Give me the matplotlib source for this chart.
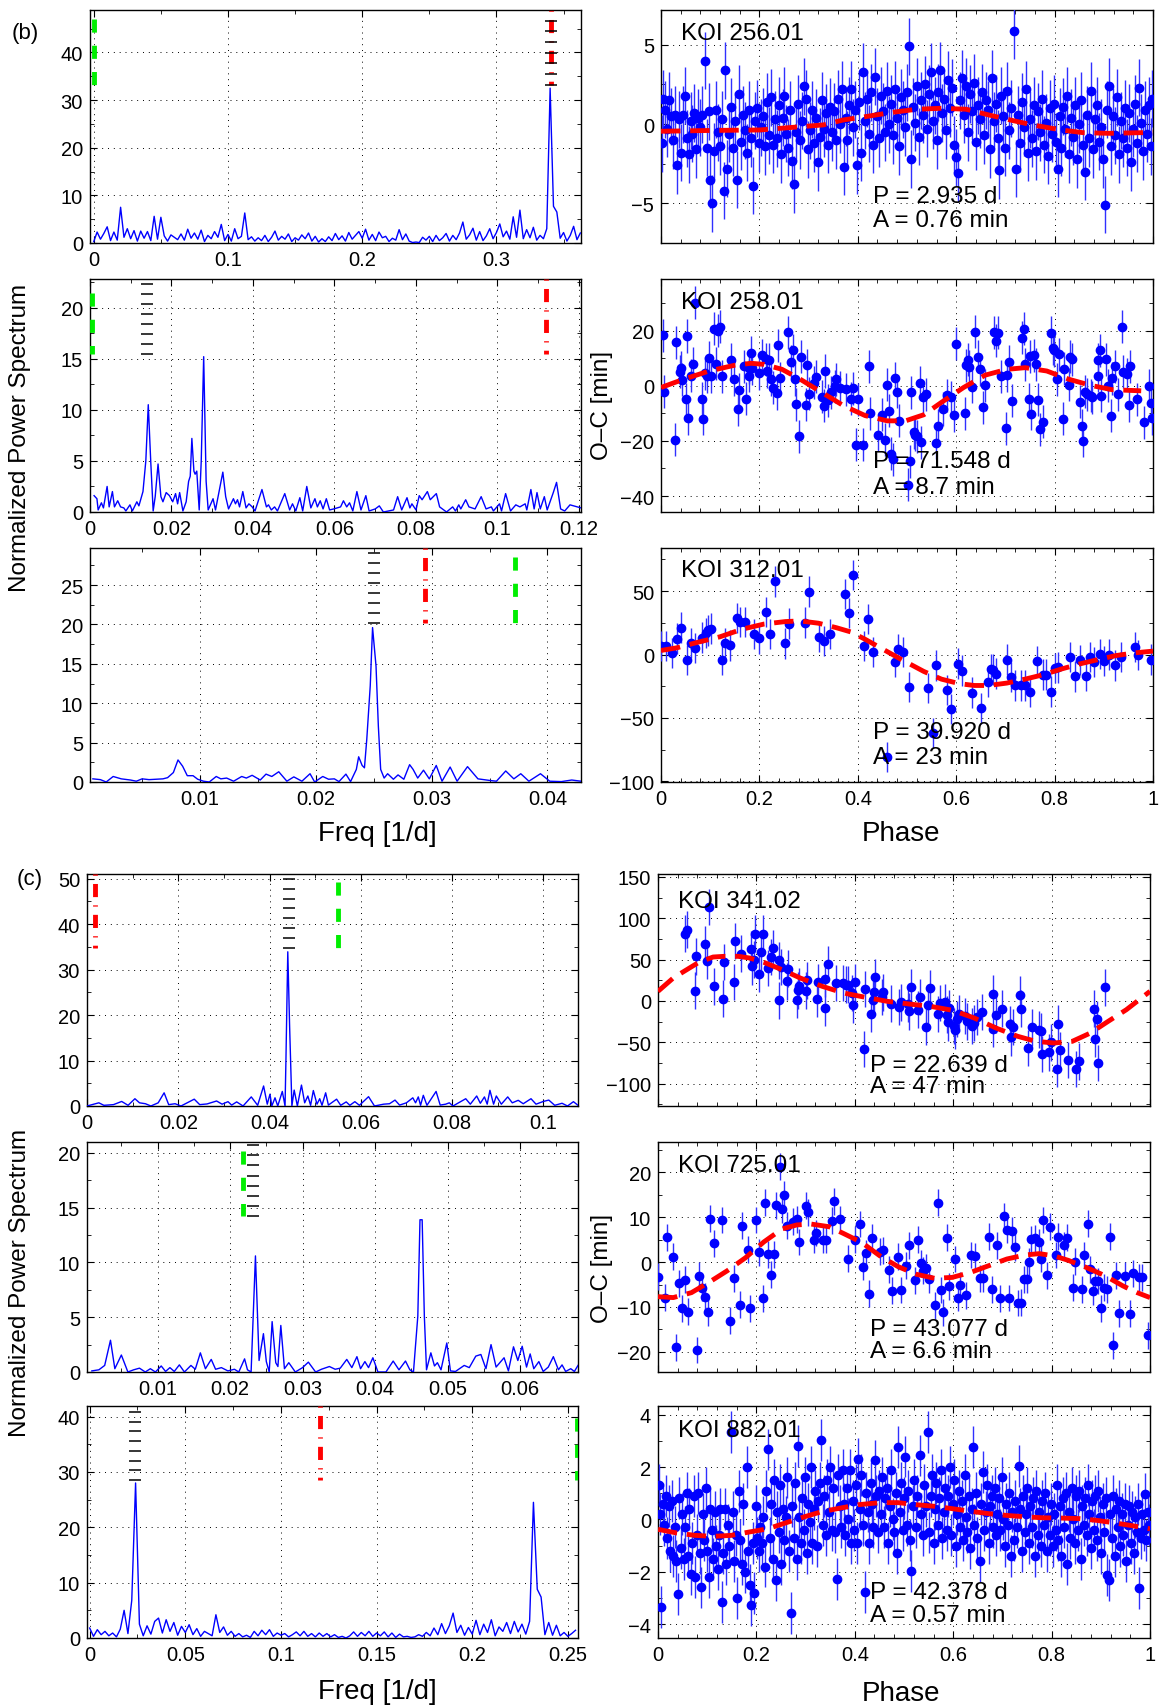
import numpy as np
import matplotlib.pyplot as plt
import matplotlib.transforms as mtransforms
from matplotlib.ticker import AutoMinorLocator, FuncFormatter

plt.rcParams['font.family'] = ['Liberation Sans', 'DejaVu Sans']

W, H = 1159, 1708

# ==========================
# Periodograms (left column)
# ==========================

# KOI 256.01, uniform grid step 0.0025 starting at 0
pw_256_step = 0.0025
pw_256 = [0.3, 2.3, 0.8, 2.0, 3.4, 0.5, 2.3, 0.6, 7.5, 1.2, 3.0, 0.9, 2.6, 0.4, 2.5, 1.0,
          2.4, 0.5, 5.6, 0.8, 5.4, 1.5, 0.4, 1.7, 1.2, 0.7, 1.9, 0.6, 2.9, 1.0, 2.1, 0.8,
          2.7, 0.3, 1.6, 0.9, 2.4, 1.2, 3.9, 0.5, 1.8, 0.4, 3.0, 0.9, 1.4, 6.3, 0.7, 1.3,
          0.4, 1.1, 0.5, 1.6, 0.3, 1.2, 2.5, 0.6, 1.4, 0.8, 1.9, 0.3, 1.1, 0.6, 1.7, 0.9,
          2.1, 0.4, 1.4, 0.2, 0.9, 0.3, 1.3, 0.5, 2.0, 0.7, 1.5, 0.4, 2.2, 0.8, 1.6, 2.4,
          1.0, 2.9, 0.6, 1.8, 0.5, 2.3, 1.1, 1.4, 0.3, 1.0, 0.6, 2.8, 0.7, 1.9, 0.4, 0.1,
          0.2, 0.1, 1.2, 0.6, 1.4, 0.3, 1.6, 0.5, 1.1, 2.0, 0.4, 1.6, 0.7, 2.1, 4.4, 0.8,
          1.7, 3.1, 0.6, 2.4, 0.5, 1.5, 3.0, 0.9, 2.2, 4.0, 1.3, 2.5, 0.8, 5.5, 1.2, 6.9,
          0.9, 2.8, 1.1, 3.3, 0.6, 1.6, 0.9, 3.0, 32.5, 7.7, 6.5, 1.0, 2.2, 0.4, 1.6, 3.5,
          0.7, 2.1]

# KOI 258.01
fq_258 = [0.001, 0.0017, 0.002, 0.0028, 0.0033, 0.0042, 0.0047, 0.0055, 0.006, 0.0068, 0.0075,
          0.0083, 0.0088, 0.0098, 0.0104, 0.0115, 0.012, 0.013, 0.0137, 0.0143, 0.0149, 0.0155,
          0.016, 0.0167, 0.0174, 0.0179, 0.0187, 0.0195, 0.0203, 0.021, 0.0215, 0.022, 0.0228,
          0.0236, 0.0242, 0.0246, 0.025, 0.0255, 0.0258, 0.0262, 0.0268, 0.0273, 0.0279, 0.0285,
          0.029, 0.0302, 0.0308, 0.0326, 0.0333, 0.034, 0.0352, 0.0357, 0.0362, 0.0367, 0.0375,
          0.0383, 0.039, 0.0398, 0.0405, 0.0422, 0.0433, 0.0438, 0.0445, 0.0453, 0.046, 0.0478,
          0.049, 0.0497, 0.0505, 0.0515, 0.0522, 0.0532, 0.0542, 0.0552, 0.0558, 0.0565, 0.0572,
          0.058, 0.0588, 0.0598, 0.0615, 0.0622, 0.063, 0.0637, 0.0645, 0.0655, 0.0665, 0.0677,
          0.0685, 0.07, 0.071, 0.072, 0.0745, 0.0755, 0.0765, 0.0778, 0.0785, 0.079, 0.08,
          0.0808, 0.0815, 0.0828, 0.0835, 0.085, 0.0858, 0.0868, 0.0875, 0.089, 0.0897, 0.0905,
          0.091, 0.0922, 0.093, 0.0945, 0.096, 0.0972, 0.0985, 0.099, 0.1005, 0.101, 0.102,
          0.1032, 0.1045, 0.1055, 0.1068, 0.1072, 0.1082, 0.109, 0.1097, 0.1105, 0.1115, 0.1122,
          0.1137, 0.1145, 0.1155, 0.1165, 0.1178, 0.1205]
pw_258 = [1.6, 1.3, 0.2, 0.9, 0.4, 2.5, 0.5, 2.0, 0.5, 1.1, 0.5,
          0.4, 0.1, 0.7, 0.1, 1.0, 0.6, 2.0, 5.0, 10.5, 5.0, 0.1,
          1.5, 4.7, 1.5, 1.0, 1.9, 1.6, 1.0, 1.8, 0.8, 1.9, 0.1,
          1.0, 3.0, 3.5, 7.2, 4.0, 3.7, 4.0, 0.2, 5.0, 15.2, 3.0,
          0.2, 1.3, 0.2, 3.9, 1.5, 0.3, 1.3, 0.8, 1.2, 0.5, 2.0,
          0.4, 0.8, 0.5, 0.1, 2.2, 0.5, 0.7, 0.2, 0.5, 0.1, 1.8,
          0.2, 0.8, 0.1, 1.4, 0.1, 2.5, 0.4, 1.3, 0.5, 1.1, 0.3,
          1.3, 0.2, 0.3, 0.5, 1.1, 0.5, 0.9, 0.1, 2.0, 0.2, 1.6,
          0.1, 0.3, 0.6, 0.0, 0.2, 1.5, 0.2, 1.4, 0.4, 0.8, 0.2,
          1.6, 1.2, 2.0, 1.2, 1.8, 0.5, 0.2, 0.0, 0.5, 0.1, 0.7,
          0.3, 1.2, 0.5, 0.3, 1.5, 0.3, 0.5, 0.1, 0.8, 0.1, 1.8,
          0.1, 0.7, 0.5, 0.8, 0.2, 2.2, 0.3, 1.9, 0.3, 1.5, 0.2,
          1.9, 2.9, 0.3, 0.1, 0.7, 0.4]

# KOI 312.01
fq_312 = [0.00075, 0.0014, 0.0019, 0.0025, 0.0032, 0.004, 0.0045, 0.005, 0.0056, 0.0068, 0.0072,
          0.0077, 0.0081, 0.0085, 0.0089, 0.0094, 0.0098, 0.0103, 0.0108, 0.0114, 0.0118, 0.0123,
          0.0129, 0.0136, 0.014, 0.0145, 0.0152, 0.0157, 0.0162, 0.0168, 0.0175, 0.0181, 0.0188,
          0.0195, 0.0199, 0.0206, 0.0211, 0.0216, 0.022, 0.0226, 0.023, 0.0235, 0.0237, 0.024,
          0.0242, 0.0244, 0.0247, 0.0249, 0.0252, 0.0254, 0.0256, 0.0259, 0.0262, 0.0267, 0.0271,
          0.0276, 0.0281, 0.0284, 0.0288, 0.0293, 0.0298, 0.0304, 0.0309, 0.0316, 0.0322, 0.0331,
          0.034, 0.035, 0.0356, 0.0364, 0.0371, 0.0377, 0.0384, 0.0394, 0.0402, 0.0412, 0.0421,
          0.0429]
pw_312 = [0.4, 0.3, 0.0, 0.7, 0.4, 0.25, 0.1, 0.4, 0.3, 0.4, 0.55,
          1.2, 2.8, 2.0, 0.8, 0.8, 0.35, 0.1, 0.0, 0.7, 0.4, 0.5,
          0.1, 0.7, 0.5, 0.85, 0.25, 1.0, 0.7, 1.3, 0.1, 0.65, 0.1,
          1.05, 0.0, 0.7, 0.35, 0.4, 0.05, 1.0, 0.05, 1.6, 3.2, 2.1,
          1.8, 5.4, 12.2, 19.6, 14.7, 7.1, 1.6, 0.5, 1.05, 0.35, 0.9,
          0.35, 2.2, 1.6, 0.5, 1.5, 0.4, 2.1, 0.1, 1.9, 0.1, 1.95,
          0.4, 0.2, 0.1, 1.4, 0.4, 1.05, 0.1, 1.05, 0.1, 0.05, 0.25,
          0.1]

# KOI 341.02
fq_341 = [0, 0.0026, 0.0037, 0.0058, 0.0076, 0.009, 0.0105, 0.0115, 0.0128, 0.014, 0.0156,
          0.0169, 0.0179, 0.0193, 0.0206, 0.0235, 0.0247, 0.0263, 0.0284, 0.0296, 0.0309, 0.0317,
          0.0328, 0.0342, 0.036, 0.0374, 0.0387, 0.0395, 0.0401, 0.0405, 0.0412, 0.0418, 0.0428,
          0.0434, 0.0436, 0.044, 0.0444, 0.0449, 0.0454, 0.0461, 0.047, 0.0477, 0.0484, 0.049,
          0.0496, 0.0504, 0.051, 0.0515, 0.0523, 0.0529, 0.0547, 0.0556, 0.0568, 0.0576, 0.0587,
          0.0597, 0.0617, 0.063, 0.065, 0.0663, 0.0675, 0.0685, 0.07, 0.0714, 0.072, 0.0726,
          0.0731, 0.0737, 0.0745, 0.0765, 0.0774, 0.0786, 0.0794, 0.0802, 0.083, 0.084, 0.0854,
          0.0862, 0.0871, 0.0877, 0.0883, 0.0891, 0.0897, 0.0908, 0.0922, 0.0932, 0.0945, 0.0956,
          0.0973, 0.0984, 0.1, 0.1012, 0.1025, 0.1041, 0.1053, 0.1066, 0.1076]
pw_341 = [0, 0.7, 0.15, 0.3, 1.0, 0.15, 1.6, 0.7, 0.5, 0, 0.7,
          2.9, 0.3, 0.5, 0, 1.5, 0.3, 0.45, 1.1, 0.4, 0.95, 0.2,
          0.9, 0, 2.0, 0.15, 4.4, 0.4, 2.6, 0, 1.8, 0, 3.2,
          0, 10.3, 33.9, 17.6, 0, 3.5, 0, 4.6, 0.7, 2.2, 0.15,
          3.4, 0.4, 1.6, 0.15, 2.9, 0.2, 1.5, 0.15, 0.9, 0.15, 0.95,
          0.15, 2.05, 0, 0.4, 0.5, 1.3, 0.2, 0.7, 1.8, 0.7, 2.0,
          0.15, 2.35, 0.15, 3.2, 0.2, 0.4, 0.7, 0, 1.6, 0.4, 2.2,
          0.6, 2.0, 0.4, 3.45, 0.4, 2.2, 0.4, 2.0, 0.7, 1.25, 0.5,
          1.6, 0.4, 1.0, 1.3, 0.15, 0.6, 0, 0.95, 0.15]

# KOI 725.01
fq_725 = [0.00093, 0.0019, 0.0027, 0.0035, 0.0041, 0.005, 0.0059, 0.0067, 0.0075, 0.0083, 0.009,
          0.0097, 0.0105, 0.0111, 0.0117, 0.0123, 0.013, 0.0137, 0.0146, 0.0152, 0.0159, 0.0166,
          0.0174, 0.018, 0.0188, 0.0197, 0.0206, 0.0212, 0.022, 0.0224, 0.0229, 0.0235, 0.024,
          0.0246, 0.025, 0.0254, 0.0258, 0.0263, 0.0266, 0.027, 0.0275, 0.0281, 0.029, 0.03,
          0.0308, 0.0318, 0.0326, 0.0337, 0.0345, 0.0352, 0.0361, 0.0368, 0.0375, 0.038, 0.0386,
          0.0391, 0.0397, 0.0404, 0.0415, 0.0425, 0.0433, 0.0442, 0.0448, 0.0453, 0.0459, 0.0462,
          0.0465, 0.0468, 0.0471, 0.0477, 0.0482, 0.0486, 0.0491, 0.0499, 0.0504, 0.0511, 0.0523,
          0.053, 0.0539, 0.0546, 0.0553, 0.056, 0.0567, 0.0578, 0.0584, 0.0591, 0.0597, 0.0603,
          0.0609, 0.0614, 0.0619, 0.0626, 0.0632, 0.0639, 0.0646, 0.0653, 0.0658, 0.0663, 0.067,
          0.0675, 0.068]
pw_725 = [0.1, 0.2, 0.6, 2.9, 0.3, 1.55, 0, 0.2, 0.35, 0, 0.3,
          0, 0.55, 0.05, 0.4, 0.05, 0.65, 0, 0.6, 0.25, 1.75, 0.3,
          1.15, 0.25, 0.4, 0.1, 0.25, 0, 1.2, 0.2, 0, 10.6, 1.05,
          3.5, 0.95, 0, 4.6, 0.85, 0.5, 4.25, 0.3, 0.85, 0, 0.4,
          0.9, 0, 0.25, 0.5, 0.25, 0.35, 1.15, 0.4, 1.4, 0.3, 0.95,
          0.4, 1.3, 0, 0, 1.0, 0.2, 1.0, 0.2, 0, 5.1, 13.9,
          13.9, 5.1, 0.2, 1.75, 0.55, 0.85, 0.2, 2.65, 0.1, 0.05, 0.6,
          0.4, 1.45, 1.6, 0.3, 2.5, 0.45, 1.3, 0.1, 2.3, 1.05, 2.35,
          0.45, 1.65, 0.3, 0.95, 0.05, 0.45, 1.4, 0.2, 0.65, 0.05, 0.3,
          0.05, 0.6]

# KOI 882.01, uniform grid step 0.002 starting at 0
pw_882_step = 0.002
pw_882 = [1.8, 0.3, 1.5, 0.6, 1.2, 0.4, 0.9, 0.2, 1.6, 5.0, 0.8, 6.8, 28.0, 2.5, 0.4, 2.2,
          0.7, 3.0, 3.6, 0.9, 3.3, 1.2, 2.8, 0.5, 2.1, 1.0, 2.4, 0.6, 1.7, 0.3, 1.2, 0.8,
          0.4, 4.2, 1.0, 2.0, 0.5, 1.2, 0.3, 0.8, 0.2, 0.5, 0.1, 1.2, 0.4, 1.4, 0.6, 1.5,
          0.3, 0.9, 0.5, 0.8, 0.2, 0.6, 1.1, 0.4, 1.2, 0.3, 0.8, 0.2, 0.9, 0.3, 0.8, 0.2,
          0.6, 0.1, 0.3, 0.0, 0.4, 1.1, 0.3, 1.0, 0.4, 1.2, 0.3, 0.9, 0.4, 1.1, 0.2, 0.9,
          0.1, 0.7, 0.2, 0.3, 0.1, 0.2, 0.6, 0.3, 1.0, 0.4, 1.8, 0.6, 2.6, 0.8, 2.2, 4.5,
          1.0, 2.3, 0.5, 1.9, 0.7, 3.2, 0.6, 2.5, 1.0, 3.3, 0.4, 2.0, 1.2, 2.8, 0.8, 3.0,
          1.1, 2.5, 0.7, 3.0, 24.5, 8.8, 7.4, 0.6, 2.8, 0.5, 2.3, 0.4, 1.0, 0.3, 0.8, 1.4]

# ==========================
# O-C diagrams (right column): (phase, O-C)
# ==========================

oc_256 = [(0.002, -1.2), (0.005, 1.6), (0.008, 0.9), (0.012, -0.3), (0.016, 1.5), (0.02, 0.5),
          (0.024, -1.0), (0.028, 0.6), (0.032, -2.6), (0.036, 0.3), (0.04, -1.8), (0.044, 0.6),
          (0.048, 1.8), (0.052, -0.9), (0.056, -1.9), (0.06, 0.2), (0.064, -0.6), (0.068, 0.7),
          (0.072, -1.6), (0.076, 0.4), (0.08, -0.2), (0.084, 0.6), (0.089, 4.0), (0.093, -1.5),
          (0.097, 0.8), (0.1, -3.5), (0.104, -5.0), (0.108, -1.7), (0.112, 0.9), (0.116, -0.5),
          (0.12, -1.4), (0.124, 0.3), (0.128, -4.2), (0.131, 3.4), (0.135, -2.8), (0.139, -0.6),
          (0.143, 1.1), (0.147, -1.5), (0.151, 0.2), (0.155, -3.5), (0.158, 1.9), (0.162, -1.1),
          (0.166, 0.6), (0.17, -0.4), (0.174, -1.8), (0.178, 0.9), (0.182, -0.9), (0.187, -3.9),
          (0.191, 0.2), (0.195, 1.0), (0.199, -1.2), (0.203, -0.2), (0.207, 0.5), (0.211, -1.4),
          (0.215, 1.4), (0.219, -0.7), (0.223, 1.7), (0.227, -1.3), (0.231, 0.3), (0.235, -0.9),
          (0.239, 1.2), (0.243, -1.9), (0.247, 0.4), (0.251, 1.8), (0.255, -0.6), (0.259, -1.5),
          (0.263, 0.9), (0.267, -2.3), (0.271, -3.8), (0.275, -0.5), (0.279, 1.3), (0.283, -1.0),
          (0.287, 0.2), (0.291, 2.4), (0.295, 1.6), (0.299, -1.6), (0.303, -0.4), (0.307, 0.9),
          (0.311, -1.2), (0.315, 0.4), (0.319, -2.4), (0.323, -0.8), (0.327, 1.5), (0.331, -0.3),
          (0.335, 0.7), (0.339, -1.3), (0.343, 1.1), (0.347, -0.5), (0.351, 0.8), (0.355, -1.0),
          (0.359, 1.6), (0.363, 0.0), (0.367, 2.2), (0.371, -2.7), (0.375, 0.4), (0.379, -1.0),
          (0.383, 1.2), (0.387, 2.2), (0.391, -0.2), (0.395, 0.9), (0.399, -2.6), (0.403, 1.4),
          (0.407, -1.8), (0.411, 3.3), (0.415, 0.2), (0.419, 1.6), (0.423, -0.6), (0.427, 2.0),
          (0.431, -1.3), (0.435, 3.0), (0.439, 0.5), (0.443, -0.9), (0.447, 1.8), (0.451, 0.8),
          (0.455, -0.5), (0.459, 2.1), (0.463, 0.0), (0.467, 1.3), (0.471, -0.7), (0.475, 2.2),
          (0.479, 0.4), (0.483, -1.4), (0.487, 1.7), (0.491, 0.9), (0.495, -0.2), (0.499, 2.0),
          (0.504, 4.9), (0.508, -2.2), (0.512, 1.1), (0.516, 0.1), (0.52, 2.4), (0.524, -0.8),
          (0.528, 1.5), (0.532, 0.6), (0.536, 2.5), (0.54, -0.3), (0.544, 1.9), (0.548, 3.3),
          (0.552, 0.2), (0.556, 1.2), (0.56, -1.0), (0.564, 2.0), (0.568, 3.4), (0.572, 0.7),
          (0.576, 1.6), (0.58, -0.4), (0.584, 2.8), (0.588, 1.0), (0.592, 2.3), (0.596, -1.3),
          (0.6, -2.1), (0.604, -3.1), (0.608, 1.5), (0.612, 2.9), (0.616, 0.6), (0.62, 2.4),
          (0.624, -0.5), (0.628, 1.9), (0.632, 0.8), (0.636, 2.6), (0.64, -1.1), (0.644, 1.2),
          (0.648, 0.3), (0.652, 2.0), (0.656, -0.7), (0.66, 1.5), (0.664, 0.9), (0.668, -1.6),
          (0.672, 2.9), (0.676, 0.2), (0.68, 1.3), (0.684, -0.9), (0.688, -2.9), (0.692, 1.8),
          (0.696, 0.5), (0.7, -1.5), (0.704, 2.1), (0.708, -0.4), (0.712, 1.0), (0.718, 5.9),
          (0.722, -2.8), (0.726, 0.6), (0.73, -1.2), (0.734, 1.4), (0.738, -0.2), (0.742, 2.2),
          (0.746, -1.8), (0.75, 0.3), (0.754, -0.9), (0.758, 1.2), (0.762, -1.7), (0.766, 0.8),
          (0.77, -0.5), (0.774, 1.6), (0.778, -1.3), (0.782, 0.1), (0.786, -2.0), (0.79, 1.0),
          (0.794, -0.6), (0.798, 1.3), (0.802, -1.1), (0.806, -2.8), (0.81, 0.5), (0.814, -1.5),
          (0.818, 1.1), (0.822, -0.3), (0.826, 1.8), (0.83, -1.9), (0.834, 0.4), (0.838, -0.8),
          (0.842, 1.2), (0.846, -2.2), (0.85, 0.0), (0.854, 1.5), (0.858, -1.3), (0.862, -3.0),
          (0.866, 0.6), (0.87, -0.9), (0.874, 2.1), (0.878, -1.6), (0.882, 0.3), (0.886, 1.2),
          (0.89, -1.1), (0.894, -0.2), (0.898, -2.2), (0.903, -5.1), (0.907, 0.9), (0.911, 2.4),
          (0.915, -1.4), (0.919, 0.5), (0.923, -0.7), (0.927, 1.7), (0.931, -1.9), (0.935, 0.2),
          (0.939, -0.9), (0.943, 1.0), (0.947, -1.5), (0.951, 0.7), (0.955, -2.4), (0.959, -0.3),
          (0.963, 1.3), (0.967, -1.2), (0.971, 2.3), (0.975, 0.1), (0.979, -1.7), (0.983, 0.9),
          (0.987, -0.6), (0.991, 1.2), (0.995, -1.4), (0.998, 1.6)]
fit_256 = [(0, -0.45), (0.1, -0.4), (0.2, -0.37), (0.33, -0.05), (0.37, 0.26), (0.415, 0.47),
           (0.467, 0.73), (0.52, 0.94), (0.57, 1.0), (0.62, 0.94), (0.666, 0.58), (0.71, 0.26),
           (0.755, -0.05), (0.814, -0.37), (0.858, -0.54), (0.91, -0.58), (0.976, -0.54), (1.0, -0.5)]

oc_258 = [(0.004, 18.3), (0.007, -2.2), (0.029, -19.6), (0.03, 15.9), (0.038, 5.1), (0.041, 6.6),
          (0.043, 2.2), (0.05, -4.8), (0.052, 18.1), (0.055, -11.8), (0.061, 3.6), (0.065, 8.1),
          (0.069, 30.1), (0.083, -4.6), (0.086, -12.0), (0.089, 4.6), (0.094, 3.4), (0.098, 10.2),
          (0.102, 3.4), (0.107, 20.7), (0.111, 8.1), (0.115, 20.1), (0.119, 21.4), (0.123, 3.4),
          (0.142, 9.4), (0.148, 2.4), (0.157, -8.4), (0.159, -1.4), (0.168, 7.2), (0.172, -4.6),
          (0.178, 3.6), (0.179, 6.6), (0.182, 12.0), (0.185, 6.4), (0.2, 4.5), (0.205, 11.1),
          (0.213, 9.6), (0.216, 5.4), (0.22, 9.4), (0.224, 2.4), (0.227, -0.6), (0.235, -2.7),
          (0.238, 14.7), (0.242, 2.7), (0.258, 19.5), (0.264, 8.7), (0.269, 12.9), (0.273, 2.4),
          (0.275, -6.6), (0.281, -18.3), (0.285, 10.5), (0.294, -6.9), (0.297, 7.5), (0.301, -2.8),
          (0.311, 1.2), (0.316, 3.3), (0.327, -3.9), (0.331, -7.2), (0.334, 5.4), (0.34, -5.2),
          (0.345, -2.4), (0.353, -0.2), (0.356, 2.4), (0.364, -0.6), (0.375, -1.2), (0.386, -4.6),
          (0.391, -0.8), (0.397, -21.3), (0.401, -4.8), (0.41, -21.3), (0.423, 7.2), (0.425, -9.9),
          (0.441, -17.7), (0.449, -10.5), (0.455, -19.5), (0.46, 0.4), (0.463, -9.0), (0.467, -24.7),
          (0.471, -26.7), (0.475, 2.8), (0.48, -2.2), (0.484, -12.7), (0.503, -35.9), (0.506, -27.3),
          (0.508, -2.4), (0.514, -16.9), (0.517, -17.7), (0.52, -18.3), (0.526, 1.2), (0.528, -20.5),
          (0.532, -4.2), (0.539, -3.0), (0.559, -20.7), (0.563, -14.5), (0.573, -8.4), (0.582, -3.4),
          (0.589, -4.2), (0.596, -10.6), (0.6, 15.3), (0.618, -10.0), (0.62, 7.5), (0.624, 9.4),
          (0.627, 6.9), (0.632, -0.4), (0.639, 19.6), (0.644, 10.6), (0.648, 6.0), (0.655, -7.8),
          (0.659, 0.2), (0.677, 19.5), (0.68, 16.3), (0.685, 19.3), (0.691, 3.4), (0.702, -15.4),
          (0.703, 3.9), (0.708, 8.7), (0.713, -5.4), (0.733, 17.5), (0.737, 20.7), (0.739, 7.8),
          (0.748, -4.8), (0.75, 10.8), (0.753, -10.2), (0.759, 11.1), (0.762, 7.8), (0.766, -5.1),
          (0.77, -15.7), (0.776, -13.0), (0.792, 19.3), (0.796, 13.6), (0.799, 13.0), (0.804, 2.4),
          (0.809, 11.4), (0.818, -12.0), (0.82, 6.3), (0.829, 0.4), (0.832, 10.6), (0.836, 9.6),
          (0.851, -5.7), (0.855, -14.5), (0.857, -19.9), (0.862, -2.2), (0.866, -3.0), (0.873, -3.6),
          (0.877, -4.2), (0.888, 9.4), (0.889, 3.6), (0.892, 12.9), (0.895, -3.6), (0.904, 9.6),
          (0.908, 0.0), (0.914, -10.8), (0.917, 2.7), (0.923, 7.2), (0.928, -3.0), (0.936, 21.4),
          (0.939, 5.1), (0.947, 4.2), (0.951, -7.0), (0.954, 7.2), (0.967, -4.8), (0.982, -13.3),
          (0.991, 0.0), (0.995, -6.4), (0.998, -11.8)]
fit_258 = [(0, -0.6), (0.046, 2.4), (0.098, 5.4), (0.15, 7.5), (0.183, 8.2), (0.209, 7.8),
           (0.246, 6.0), (0.283, 2.4), (0.327, -2.4), (0.371, -7.2), (0.415, -10.8), (0.46, -12.7),
           (0.497, -12.7), (0.534, -10.5), (0.57, -6.0), (0.615, -0.6), (0.659, 3.9), (0.703, 6.0),
           (0.74, 6.6), (0.784, 5.4), (0.829, 2.4), (0.873, 0.2), (0.917, -1.4), (0.976, -1.8)]

oc_312 = [(0, 6.6), (0.01, 6.6), (0.023, 1.3), (0.032, 12.5), (0.041, 21.2), (0.052, -4.5),
          (0.061, 9.3), (0.07, 5.3), (0.083, 13.3), (0.091, 17.2), (0.096, 19.1), (0.102, 20.4),
          (0.123, -4.5), (0.13, 8.8), (0.14, 7.2), (0.154, 28.6), (0.161, 25.7), (0.17, 25.7),
          (0.19, 16.4), (0.199, 12.7), (0.214, 33.7), (0.222, 16.4), (0.231, 57.6), (0.253, 8.8),
          (0.261, 24.4), (0.292, 25.2), (0.3, 49.6), (0.322, 13.8), (0.331, 10.6), (0.343, 16.4),
          (0.373, 47.7), (0.382, 32.6), (0.391, 62.9), (0.413, 6.6), (0.421, 27.9), (0.43, 2.1),
          (0.46, -80.9), (0.475, -5.8), (0.482, 4.5), (0.491, 1.9), (0.504, -25.7), (0.542, -26.5),
          (0.552, -61.8), (0.559, -8.5), (0.581, -27.9), (0.589, -43.0), (0.604, -7.2), (0.611, -12.7),
          (0.633, -30.0), (0.65, -42.4), (0.664, -21.8), (0.67, -11.4), (0.675, -11.9), (0.681, -15.1),
          (0.703, -4.0), (0.711, -17.8), (0.72, -24.4), (0.731, -24.4), (0.74, -24.4), (0.749, -29.2),
          (0.764, -5.3), (0.777, -15.9), (0.783, -15.9), (0.793, -29.2), (0.801, -10.6), (0.807, -10.1),
          (0.832, -1.9), (0.841, -17.2), (0.851, -4.5), (0.863, -16.7), (0.872, -1.9), (0.88, -5.8),
          (0.892, 0.5), (0.9, -5.3), (0.911, 0.0), (0.923, -8.5), (0.934, -1.9), (0.963, 6.1),
          (0.97, -0.5), (0.995, -4.0)]
fit_312 = [(0, 3.2), (0.032, 5.3), (0.076, 9.8), (0.12, 14.0), (0.165, 20.0), (0.209, 24.0),
           (0.253, 26.0), (0.283, 26.5), (0.32, 24.7), (0.356, 21.2), (0.386, 17.8), (0.415, 12.0),
           (0.452, 4.0), (0.489, -4.0), (0.534, -13.3), (0.57, -19.4), (0.607, -23.0), (0.637, -24.4),
           (0.666, -24.4), (0.703, -22.5), (0.74, -19.4), (0.777, -15.9), (0.814, -11.4), (0.851, -7.4),
           (0.888, -4.0), (0.925, -0.8), (0.962, 1.3), (1.0, 2.7)]

oc_341 = [(0.055, 81.5), (0.058, 86.3), (0.077, 54.0), (0.075, 12.5), (0.096, 69.0), (0.1, 48.0),
          (0.103, 113.7), (0.114, 17.7), (0.132, 2.8), (0.134, 46.8), (0.154, 23.0), (0.156, 72.2),
          (0.169, 57.3), (0.189, 62.9), (0.192, 41.9), (0.195, 50.0), (0.197, 81.5), (0.206, 33.1),
          (0.209, 58.9), (0.214, 81.5), (0.224, 39.9), (0.23, 53.2), (0.234, 64.1), (0.245, 0.8),
          (0.246, 49.2), (0.25, 41.1), (0.263, 23.8), (0.265, 39.1), (0.283, 1.6), (0.285, 12.9),
          (0.287, 18.5), (0.301, 12.5), (0.302, 25.0), (0.323, 2.8), (0.326, 22.6), (0.339, -8.5),
          (0.34, 26.6), (0.346, 44.8), (0.361, 21.8), (0.377, 21.8), (0.382, 19.8), (0.386, 19.8),
          (0.395, 9.7), (0.397, -5.2), (0.401, 22.6), (0.418, -57.7), (0.42, 14.5), (0.433, -15.7),
          (0.437, 1.6), (0.439, 10.5), (0.442, 28.6), (0.455, 4.8), (0.458, 10.5), (0.473, -3.2),
          (0.489, -7.3), (0.493, -1.6), (0.508, -3.2), (0.51, -12.5), (0.514, 16.5), (0.528, -10.5),
          (0.532, 4.8), (0.545, -31.5), (0.548, -5.2), (0.552, 15.7), (0.569, -15.7), (0.573, -2.4),
          (0.584, -1.6), (0.587, -16.5), (0.59, -25.8), (0.592, -8.5), (0.602, -30.6), (0.604, -35.5),
          (0.607, -21.8), (0.611, -15.3), (0.624, -18.5), (0.628, -24.6), (0.639, -30.6), (0.643, -26.6),
          (0.648, -19.4), (0.659, -13.3), (0.68, 8.9), (0.681, -33.5), (0.687, -16.5), (0.7, -9.3),
          (0.715, -27.8), (0.718, -44.0), (0.722, -31.5), (0.735, 7.7), (0.738, -9.3), (0.753, -56.9),
          (0.76, -31.9), (0.775, -34.7), (0.779, -36.7), (0.781, -64.1), (0.794, -62.1), (0.798, -50.0),
          (0.81, -81.9), (0.813, -27.4), (0.818, -58.9), (0.834, -71.0), (0.85, -82.3), (0.856, -73.0),
          (0.886, -9.3), (0.888, -46.0), (0.892, -21.4), (0.895, -75.0), (0.908, 16.5)]
fit_341 = [(0, 11.7), (0.031, 27.8), (0.053, 35.9), (0.083, 46.8), (0.112, 53.2), (0.134, 54.0),
           (0.164, 54.0), (0.186, 52.0), (0.215, 46.8), (0.252, 37.9), (0.289, 27.8), (0.334, 17.7),
           (0.377, 9.7), (0.422, 4.4), (0.466, -0.4), (0.51, -3.6), (0.554, -6.5), (0.599, -11.3),
           (0.643, -20.6), (0.687, -32.7), (0.731, -42.7), (0.768, -48.8), (0.805, -50.8), (0.842, -48.8),
           (0.879, -38.7), (0.915, -24.6), (0.952, -10.5), (1.0, 11.7)]

oc_725 = [(0.001, -3.2), (0.015, -7.9), (0.018, 5.5), (0.031, 1.2), (0.036, -19.0), (0.042, -4.7),
          (0.049, -10.3), (0.055, -3.9), (0.06, -11.1), (0.079, -19.6), (0.083, -3.0), (0.09, -5.7),
          (0.096, -7.7), (0.101, -11.2), (0.106, 9.7), (0.113, 4.2), (0.13, 9.4), (0.147, -13.1),
          (0.154, -3.6), (0.166, -9.5), (0.171, 8.1), (0.183, 2.8), (0.188, -10.3), (0.2, 9.4),
          (0.206, 2.2), (0.213, -8.1), (0.218, 13.3), (0.223, 1.8), (0.23, -2.8), (0.235, 1.8),
          (0.239, 12.7), (0.248, 21.3), (0.252, 11.8), (0.257, 15.0), (0.263, 8.1), (0.274, 9.0),
          (0.283, 9.6), (0.287, 4.5), (0.3, 12.6), (0.305, 11.1), (0.317, 5.0), (0.322, 6.5),
          (0.336, 5.0), (0.342, 5.0), (0.354, 9.2), (0.358, 13.6), (0.37, 9.6), (0.387, 0.8),
          (0.4, 5.0), (0.411, 8.5), (0.417, -1.0), (0.422, 2.0), (0.428, -7.0), (0.435, 5.4),
          (0.451, 2.3), (0.457, 2.7), (0.47, -1.7), (0.475, -6.4), (0.488, 1.2), (0.493, -6.2),
          (0.505, -0.8), (0.51, 3.8), (0.522, -4.0), (0.528, 5.0), (0.534, -0.2), (0.539, -1.9),
          (0.545, -1.2), (0.551, -3.8), (0.562, -9.6), (0.569, 13.3), (0.575, -6.2), (0.58, -11.2),
          (0.587, 5.4), (0.591, -5.4), (0.604, 0.7), (0.609, -8.0), (0.614, -5.1), (0.626, -7.4),
          (0.637, 1.6), (0.645, 1.3), (0.654, -3.6), (0.661, -3.6), (0.672, 5.7), (0.678, -6.0),
          (0.69, 3.8), (0.696, -8.1), (0.704, 10.2), (0.709, 7.2), (0.714, -8.0), (0.72, 7.0),
          (0.726, 3.3), (0.731, -9.1), (0.738, -9.0), (0.744, -3.8), (0.751, -3.8), (0.755, 0.1),
          (0.759, 5.1), (0.766, 5.3), (0.774, 4.4), (0.779, 0.8), (0.783, 9.4), (0.79, -2.9),
          (0.796, 7.9), (0.808, 1.6), (0.814, 5.7), (0.825, 3.8), (0.831, 5.4), (0.843, -5.7),
          (0.848, 0.1), (0.861, -6.0), (0.865, 1.6), (0.873, 8.6), (0.879, -1.6), (0.884, -6.5),
          (0.888, -4.3), (0.895, -4.2), (0.901, -10.3), (0.907, -5.7), (0.912, -6.0), (0.919, 5.7),
          (0.925, -18.5), (0.93, -2.9), (0.937, -11.4), (0.949, -3.0), (0.959, -11.5), (0.965, -2.5),
          (0.978, -3.4), (0.983, -3.4), (0.996, -16.3)]
fit_725 = [(0, -7.7), (0.031, -7.9), (0.068, -6.8), (0.105, -4.4), (0.141, -1.9), (0.178, 1.0),
           (0.215, 4.5), (0.252, 7.4), (0.282, 8.3), (0.311, 8.5), (0.348, 7.9), (0.377, 6.4),
           (0.414, 4.4), (0.451, 1.4), (0.488, -1.0), (0.525, -2.7), (0.562, -3.6), (0.598, -3.4),
           (0.635, -2.3), (0.672, -0.8), (0.709, 0.7), (0.746, 1.6), (0.775, 1.9), (0.805, 1.4),
           (0.834, 0.4), (0.871, -1.2), (0.908, -3.0), (0.945, -5.3), (0.974, -6.8), (1.0, -7.9)]

oc_882 = [(0.003, 1.3), (0.005, 0.2), (0.007, -3.35), (0.01, 0.6), (0.013, -0.2), (0.016, 0.9),
          (0.019, -0.7), (0.022, 0.5), (0.025, -1.2), (0.028, 0.7), (0.031, -1.4), (0.034, -0.3),
          (0.037, -1.6), (0.04, -2.85), (0.043, 0.8), (0.046, -1.1), (0.049, 0.2), (0.052, -1.5),
          (0.055, -0.3), (0.058, 1.0), (0.061, -1.4), (0.064, 0.4), (0.067, -2.1), (0.07, -0.9),
          (0.073, 0.9), (0.076, -2.2), (0.079, -0.6), (0.082, 1.0), (0.085, -1.3), (0.088, -2.6),
          (0.091, 0.2), (0.094, -0.8), (0.097, 1.2), (0.1, -1.2), (0.103, -2.2), (0.106, 0.4),
          (0.109, -0.4), (0.112, -1.5), (0.115, 0.3), (0.118, -1.0), (0.121, -1.9), (0.124, -0.6),
          (0.127, 0.4), (0.13, -3.15), (0.133, -1.3), (0.136, 0.4), (0.139, -1.7), (0.142, -0.2),
          (0.145, -1.0), (0.149, 3.33), (0.152, 0.3), (0.155, -1.6), (0.158, -0.6), (0.161, -3.0),
          (0.164, 1.1), (0.167, -0.8), (0.17, -1.7), (0.173, 0.6), (0.176, -2.0), (0.18, 2.0),
          (0.183, -1.2), (0.186, -2.5), (0.19, -3.28), (0.193, -0.9), (0.196, -2.8), (0.199, 0.5),
          (0.202, -0.7), (0.205, -1.2), (0.208, -0.3), (0.211, -0.9), (0.214, 0.1), (0.217, -1.8),
          (0.22, 1.1), (0.224, 2.67), (0.227, -0.7), (0.23, 0.6), (0.233, -1.5), (0.236, 1.5),
          (0.239, -2.3), (0.242, 0.3), (0.245, -0.5), (0.248, 1.3), (0.251, -1.7), (0.254, 0.4),
          (0.257, -0.8), (0.26, 0.1), (0.263, 1.6), (0.266, -1.2), (0.27, -3.58), (0.273, 0.5),
          (0.276, -0.7), (0.279, 1.4), (0.282, -1.5), (0.284, 2.79), (0.287, 0.1), (0.29, -0.9),
          (0.293, 0.8), (0.296, -0.4), (0.299, 1.6), (0.302, -1.3), (0.305, 0.6), (0.308, -0.1),
          (0.311, 2.0), (0.314, -0.9), (0.317, 0.4), (0.32, 1.1), (0.323, -1.0), (0.326, 0.7),
          (0.329, 1.4), (0.332, 3.04), (0.335, -0.2), (0.338, 0.9), (0.341, -0.6), (0.344, 1.5),
          (0.347, 0.3), (0.35, 2.0), (0.353, -0.4), (0.356, 1.2), (0.36, -0.5), (0.363, -2.26),
          (0.366, 1.7), (0.369, 0.5), (0.372, -0.3), (0.375, 1.9), (0.378, 0.6), (0.381, -0.6),
          (0.384, 1.2), (0.387, 0.0), (0.39, 1.9), (0.393, -0.9), (0.396, 0.7), (0.399, -0.4),
          (0.402, 1.3), (0.405, -0.9), (0.407, 2.32), (0.41, 0.4), (0.413, 1.7), (0.416, -0.2),
          (0.42, -2.77), (0.423, 1.0), (0.426, 0.3), (0.429, -0.9), (0.432, 1.4), (0.435, 0.6),
          (0.438, -0.3), (0.441, 2.25), (0.444, 0.9), (0.447, -0.5), (0.45, 1.1), (0.453, 0.2),
          (0.456, 1.6), (0.459, -0.3), (0.462, 0.8), (0.465, 1.2), (0.468, -0.9), (0.471, 0.5),
          (0.474, 1.9), (0.477, 0.0), (0.48, -0.5), (0.483, 1.0), (0.486, -1.3), (0.488, 2.76),
          (0.491, 0.3), (0.494, 1.4), (0.497, -0.4), (0.5, 0.8), (0.503, 2.4), (0.506, -0.2),
          (0.509, 1.1), (0.512, -0.8), (0.515, -1.97), (0.518, 0.5), (0.521, 1.5), (0.524, -0.3),
          (0.527, 0.9), (0.532, 2.44), (0.535, 0.2), (0.538, -0.6), (0.541, 1.3), (0.544, 0.5),
          (0.548, 3.33), (0.551, -0.5), (0.554, 0.9), (0.557, 1.7), (0.56, -0.9), (0.563, 0.4),
          (0.566, 1.4), (0.569, -0.2), (0.572, 0.8), (0.575, 1.9), (0.578, -0.7), (0.581, 0.3),
          (0.584, 1.2), (0.587, -0.4), (0.59, 0.9), (0.593, 2.0), (0.596, -0.6), (0.599, 0.6),
          (0.602, 1.5), (0.605, -1.0), (0.608, 0.2), (0.611, 1.1), (0.614, -0.3), (0.617, 0.7),
          (0.62, -0.8), (0.623, 1.7), (0.626, 0.1), (0.629, -0.5), (0.632, 0.9), (0.635, -1.1),
          (0.638, 0.4), (0.64, 2.76), (0.643, -0.2), (0.646, 1.0), (0.649, -0.7), (0.654, -1.6),
          (0.657, 0.6), (0.66, 1.8), (0.663, -0.4), (0.666, 0.3), (0.669, 1.3), (0.672, -0.9),
          (0.675, 0.5), (0.678, 0.9), (0.681, -0.3), (0.684, 1.2), (0.687, -0.6), (0.69, 0.2),
          (0.693, 0.8), (0.696, -0.4), (0.699, 1.6), (0.702, 0.0), (0.705, -1.0), (0.708, 0.6),
          (0.711, -0.2), (0.714, 1.0), (0.717, -1.4), (0.72, 0.3), (0.723, -0.8), (0.726, 0.7),
          (0.73, -0.3), (0.733, 2.04), (0.736, 0.4), (0.739, -1.2), (0.742, 0.9), (0.745, -0.5),
          (0.748, 0.2), (0.751, 1.2), (0.754, -0.9), (0.757, 0.5), (0.76, -0.3), (0.763, 0.8),
          (0.766, -1.4), (0.769, 1.1), (0.772, -0.6), (0.775, 0.3), (0.778, -1.0), (0.781, 0.7),
          (0.784, -0.2), (0.787, 1.0), (0.79, -1.2), (0.793, 0.1), (0.796, -0.6), (0.799, 0.6),
          (0.802, -1.0), (0.805, 0.2), (0.808, -0.4), (0.811, 1.3), (0.814, -0.8), (0.817, 0.5),
          (0.82, -1.4), (0.823, 0.8), (0.826, -0.3), (0.829, 1.0), (0.832, -1.7), (0.835, 0.3),
          (0.838, -0.7), (0.841, 1.2), (0.844, 0.0), (0.847, -0.9), (0.85, 0.9), (0.853, -0.4),
          (0.856, 1.1), (0.859, -1.5), (0.862, 0.5), (0.865, -0.2), (0.868, 0.8), (0.871, -0.6),
          (0.874, 1.3), (0.877, 0.2), (0.88, -1.1), (0.883, 0.7), (0.886, -0.4), (0.889, 0.9),
          (0.892, -0.8), (0.895, 1.1), (0.898, 0.1), (0.901, -1.3), (0.904, 0.6), (0.907, -0.5),
          (0.91, 0.8), (0.913, -2.14), (0.916, -2.3), (0.919, 0.2), (0.922, -0.7), (0.925, 0.9),
          (0.928, -1.4), (0.931, 0.4), (0.934, -0.3), (0.937, 0.7), (0.94, -1.0), (0.943, 0.2),
          (0.946, -0.6), (0.949, 0.6), (0.952, -1.6), (0.955, -0.2), (0.958, 0.5), (0.961, -0.9),
          (0.964, 0.3), (0.967, -1.3), (0.97, 0.1), (0.973, -0.5), (0.976, 0.6), (0.978, -2.62),
          (0.981, -0.7), (0.984, 0.2), (0.987, -0.4), (0.989, 0.98), (0.992, -0.8), (0.995, 0.3),
          (0.998, -0.2)]
fit_882 = [(0, -0.38), (0.038, -0.52), (0.075, -0.61), (0.112, -0.65), (0.149, -0.61), (0.186, -0.48),
           (0.223, -0.36), (0.26, -0.13), (0.296, 0.09), (0.33, 0.28), (0.37, 0.43), (0.407, 0.56),
           (0.451, 0.64), (0.488, 0.64), (0.525, 0.56), (0.562, 0.5), (0.598, 0.41), (0.635, 0.31),
           (0.672, 0.22), (0.709, 0.15), (0.746, 0.1), (0.783, 0.06), (0.819, 0.05), (0.856, 0.03),
           (0.893, -0.04), (0.93, -0.14), (0.967, -0.25), (1.0, -0.36)]

# typical error bar per KOI (min)
err = {'256.01': 1.8, '258.01': 6.0, '312.01': 12.0, '341.02': 22.0, '725.01': 3.0, '882.01': 0.8}

names = ['256.01', '258.01', '312.01', '341.02', '725.01', '882.01']
periods = ['2.935', '71.548', '39.920', '22.639', '43.077', '42.378']
amps = ['0.76', '8.7', '23', '47', '6.6', '0.57']

# frequencies of the vertical markers (green, black, red)
mark_green = [0.0, 0.0006, 0.0372, 0.055, 0.0218, 0.255]
mark_black = [0.3407, 0.0141, 0.02503, 0.0442, 0.0232, 0.0238]
mark_red = [0.3407, 0.1119, 0.0294, 0.00165, None, 0.1204]


def fmt(v, pos):
    return ('%g' % round(v, 6)).replace('-', '\u2212')


def axbox(l, t, r, b):
    return fig.add_axes([l / W, 1 - b / H, (r - l) / W, (b - t) / H])


def style(ax, xminor, yminor):
    ax.grid(True, which='major', color='k', linestyle=(0, (1, 5)), linewidth=0.7)
    ax.tick_params(which='both', direction='in', top=True, right=True, labelsize=14.5, pad=5)
    ax.tick_params(which='major', length=5, width=0.8)
    ax.tick_params(which='minor', length=3, width=0.6)
    ax.xaxis.set_minor_locator(AutoMinorLocator(xminor))
    ax.yaxis.set_minor_locator(AutoMinorLocator(yminor))
    ax.xaxis.set_major_formatter(FuncFormatter(fmt))
    ax.yaxis.set_major_formatter(FuncFormatter(fmt))
    for s in ax.spines.values():
        s.set_linewidth(1.0)


def markers(ax, g, k, r, tops):
    tr = mtransforms.blended_transform_factory(ax.transData, ax.transAxes)
    bot = 0.68
    if g is not None:
        ax.plot([g, g], [tops[0], bot], transform=tr, color='#00ee00', lw=3.5,
                dashes=(2.7, 2.7), zorder=4)
    if r is not None:
        ax.plot([r, r], [tops[2], bot], transform=tr, color='red', lw=3.5,
                dashes=(0.25, 1.7, 2.7, 1.7), zorder=4)
    if k is not None:
        yk = np.linspace(bot, tops[1], 8)
        ax.plot(np.full(len(yk), k), yk, transform=tr, ls='none', marker='_',
                ms=8, mew=1.1, color='k', zorder=5)


fig = plt.figure(figsize=(W / 100, H / 100), dpi=100)

# left column boxes (l, t, r, b) in pixels
left_boxes = [(90, 11, 581, 244), (90, 280, 581, 513), (90, 549, 581, 783),
              (87, 875, 578, 1107), (87, 1143, 578, 1373), (87, 1407, 578, 1639)]
right_boxes = [(661, 11, 1153, 244), (661, 280, 1153, 513), (661, 549, 1153, 783),
               (658, 875, 1150, 1107), (658, 1143, 1150, 1373), (658, 1407, 1150, 1639)]

spectra = [
    (np.arange(len(pw_256)) * pw_256_step, pw_256),
    (fq_258, pw_258),
    (fq_312, pw_312),
    (fq_341, pw_341),
    (fq_725, pw_725),
    (np.arange(len(pw_882)) * pw_882_step, pw_882),
]
left_xlim = [(-0.0028, 0.363), (0, 0.1205), (0.0005, 0.0429), (0, 0.1076), (0.00026, 0.068), (-0.0014, 0.2553)]
left_ylim = [48.9, 22.8, 29.7, 51, 21, 41.9]
left_xt = [[0, 0.1, 0.2, 0.3], [0, 0.02, 0.04, 0.06, 0.08, 0.1, 0.12], [0.01, 0.02, 0.03, 0.04],
           [0, 0.02, 0.04, 0.06, 0.08, 0.1], [0.01, 0.02, 0.03, 0.04, 0.05, 0.06],
           [0, 0.05, 0.1, 0.15, 0.2, 0.25]]
left_yt = [[0, 10, 20, 30, 40], [0, 5, 10, 15, 20], [0, 5, 10, 15, 20, 25],
           [0, 10, 20, 30, 40, 50], [0, 5, 10, 15, 20], [0, 10, 20, 30, 40]]
mark_tops = [(0.96, 1.0, 1.0), (0.94, 0.98, 1.0), (0.96, 0.98, 1.0),
             (0.965, 0.98, 1.0), (0.96, 0.985, 1.0), (0.95, 0.975, 1.0)]

for i in range(6):
    ax = axbox(*left_boxes[i])
    f, p = spectra[i]
    ax.plot(f, p, color='blue', lw=1.0, zorder=3)
    markers(ax, mark_green[i], mark_black[i], mark_red[i], mark_tops[i])
    ax.set_xlim(*left_xlim[i])
    ax.set_ylim(0, left_ylim[i])
    ax.set_xticks(left_xt[i])
    ax.set_yticks(left_yt[i])
    style(ax, 2, 2)

# right column
oc_sets = [oc_256, oc_258, oc_312, oc_341, oc_725, oc_882]
fit_sets = [fit_256, fit_258, fit_312, fit_341, fit_725, fit_882]
right_ylim = [(-7.5, 7.2), (-45.8, 38.8), (-100.5, 84), (-127, 153.6), (-24.5, 26.8), (-4.53, 4.33)]
right_yt = [[-5, 0, 5], [-40, -20, 0, 20], [-100, -50, 0, 50], [-100, -50, 0, 50, 100, 150],
            [-20, -10, 0, 10, 20], [-4, -2, 0, 2, 4]]
koi_y = [0.903, 0.9, 0.905, 0.885, 0.9, 0.898]
p_y = [0.2, 0.22, 0.215, 0.177, 0.185, 0.2]
a_y = [0.1, 0.106, 0.107, 0.086, 0.091, 0.098]

for i in range(6):
    ax = axbox(*right_boxes[i])
    ph, oc = np.array(oc_sets[i]).T
    ax.errorbar(ph, oc, yerr=err[names[i]], fmt='o', ms=6, color='blue',
                ecolor='#3030ff', elinewidth=1.0, capsize=0, zorder=3)
    fph, fval = np.array(fit_sets[i]).T
    ax.plot(fph, fval, color='red', lw=3.5, dashes=(4, 2), zorder=4)
    ax.set_xlim(0, 1)
    ax.set_ylim(*right_ylim[i])
    ax.set_xticks([0, 0.2, 0.4, 0.6, 0.8, 1])
    ax.set_yticks(right_yt[i])
    style(ax, 5, 2)
    if i not in (2, 5):
        ax.tick_params(labelbottom=False)
    ax.text(0.04, koi_y[i], 'KOI ' + names[i], transform=ax.transAxes,
            fontsize=17.5, va='center', ha='left', zorder=6)
    ax.text(0.43, p_y[i], 'P = %s d' % periods[i], transform=ax.transAxes,
            fontsize=17.5, va='center', ha='left', zorder=6)
    ax.text(0.43, a_y[i], 'A = %s min' % amps[i], transform=ax.transAxes,
            fontsize=17.5, va='center', ha='left', zorder=6)


def ftext(x, y, s, **kw):
    fig.text(x / W, 1 - y / H, s, ha='center', va='center', **kw)


ftext(25, 33, '(b)', fontsize=16)
ftext(30, 880, '(c)', fontsize=16)
ftext(20, 438, 'Normalized Power Spectrum', fontsize=17.5, rotation=90)
ftext(20, 1283, 'Normalized Power Spectrum', fontsize=17.5, rotation=90)
ftext(602, 405, 'O\u2013C [min]', fontsize=17.5, rotation=90)
ftext(602, 1268, 'O\u2013C [min]', fontsize=17.5, rotation=90)
ftext(377, 834, 'Freq [1/d]', fontsize=20)
ftext(377, 1692, 'Freq [1/d]', fontsize=20)
ftext(901, 834, 'Phase', fontsize=20)
ftext(901, 1694, 'Phase', fontsize=20)

fig.savefig('out.png', dpi=100)
